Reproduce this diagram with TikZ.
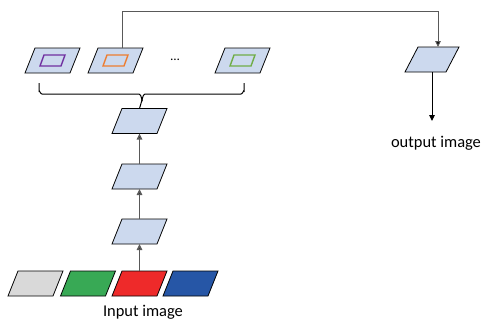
\documentclass[tikz,border=0pt]{standalone}
\usepackage{fontspec}
\setmainfont{Carlito}
\usetikzlibrary{arrows.meta,calc}
\definecolor{pfill}{HTML}{CCD9EE}
\definecolor{cgray}{HTML}{D9D9D9}
\definecolor{cgreen}{HTML}{38A955}
\definecolor{cred}{HTML}{EE2A2A}
\definecolor{cblue}{HTML}{2656A6}
\definecolor{cpurple}{HTML}{7030A0}
\definecolor{corange}{HTML}{ED7D31}
\definecolor{clgreen}{HTML}{70AD47}
\definecolor{lgray}{HTML}{595959}
\begin{document}
\begin{tikzpicture}[x=1bp,y=-1bp,
  pbase/.style={rectangle, draw=none, fill=none, inner sep=0pt, outer sep=0pt},
  pshape/.style 2 args={append after command={\pgfextra{%
      \draw[#2] (\tikzlastnode.south west) -- ([xshift=-#1]\tikzlastnode.south east)
        -- (\tikzlastnode.north east) -- ([xshift=#1]\tikzlastnode.north west) -- cycle;}}},
  para/.style={pbase, minimum width=55bp, minimum height=25bp,
    pshape={10bp}{draw=black, line width=0.8bp, fill=#1}},
  para/.default=pfill,
  opara/.style={pbase, minimum width=54bp, minimum height=25bp,
    pshape={13bp}{draw=black, line width=0.8bp, fill=pfill}},
  inpara/.style={pbase, minimum width=25bp, minimum height=11bp,
    pshape={4bp}{draw=#1, line width=1.4bp}},
  conn/.style={draw=lgray, line width=1.5bp},
  arr/.style={conn, -{Triangle[length=6bp,width=5.5bp,fill=black]}},
  lbl/.style={font=\fontsize{16.5}{19}\selectfont, text=black, inner sep=0pt}
]
\useasboundingbox (0,0) rectangle (482,325);
% top row
\node[para] (f1) at (52.5,60.5) {};
\node[para] (f2) at (115.5,60.5) {};
\node[para] (f3) at (242.5,60.5) {};
\node[inpara=cpurple] (i1) at (f1.center) {};
\node[inpara=corange] (i2) at (f2.center) {};
\node[inpara=clgreen] (i3) at (f3.center) {};
\node[lbl, font=\fontsize{13}{15}\selectfont] (dots) at (175,60) {\dots};
% stack
\node[para] (s1) at (139.5,121) {};
\node[para] (s2) at (139.5,176.5) {};
\node[para] (s3) at (139.5,231.5) {};
% input
\node[para=cgray] (ig) at (35.5,283.5) {};
\node[para=cgreen] (igr) at (88,283.5) {};
\node[para=cred] (ir) at (139.5,283.5) {};
\node[para=cblue] (ib) at (190.5,283.5) {};
\node[lbl] (inlbl) at (143,312) {Input image};
% output
\node[opara] (o) at (432,59.5) {};
\node[lbl] (outlbl) at (436,143) {output image};
\coordinate (otip) at (432,121);
% brace
\coordinate (bl) at (39,83);
\coordinate (br) at (244,83);
\coordinate (bt) at (142,100);
\draw[black, line width=1bp] (bl) -- ++(0,8) to[out=90,in=180] ++(3,3) -- ($(bt)+(-3,-6)$)
  to[out=0,in=-90] (bt);
\draw[black, line width=1bp] (br) -- ++(0,8) to[out=90,in=0] ++(-3,3) -- ($(bt)+(3,-6)$)
  to[out=180,in=-90] (bt);
\draw[black, line width=1bp] (bt) -- (s1.north);
% arrows in stack
\draw[arr] (ir.north) -- (s3.south);
\draw[arr] (s3.north) -- (s2.south);
\draw[arr] (s2.north) -- (s1.south);
% top connector
\coordinate (tl) at ($(f2.north)+(7,0)$);
\draw[arr, line width=1bp] (tl) -- ++(0,-37) -| ($(o.north)+(6,0)$);
\draw[arr, line width=1bp, draw=black] (o.south) -- (otip);
\end{tikzpicture}
\end{document}
